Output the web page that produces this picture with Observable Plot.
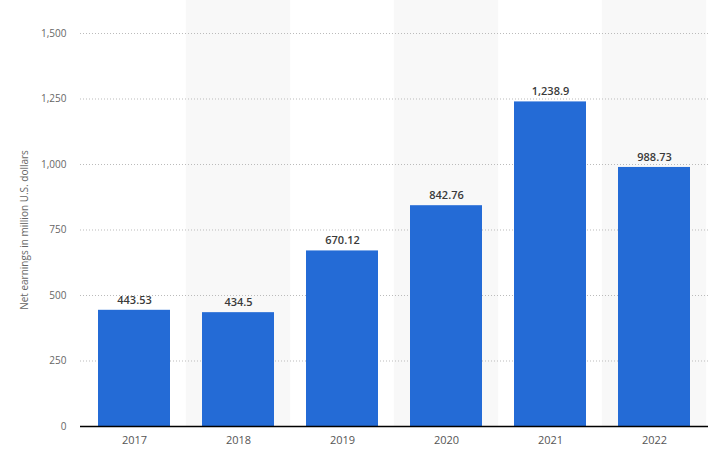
<!DOCTYPE html>
<html><head><meta charset="utf-8">
<script src="https://cdn.jsdelivr.net/npm/d3@7"></script>
<script src="https://cdn.jsdelivr.net/npm/@observablehq/plot@0.6"></script>
<style>
body{margin:0;background:#fff;font-family:"Open Sans",sans-serif;}
</style></head>
<body><div id="chart"></div>
<script>
const years = ["2017","2018","2019","2020","2021","2022"];
const earnings = [443.53, 434.5, 670.12, 842.76, 1238.9, 988.73];
const labels = ["443.53","434.5","670.12","842.76","1,238.9","988.73"];
const yTicks = [0, 250, 500, 750, 1000, 1250, 1500];

const data = years.map((y, i) => ({year: y, value: earnings[i], label: labels[i]}));
const shaded = data.filter((d, i) => i % 2 === 1);

const chart = Plot.plot({
  width: 720, height: 459,
  marginLeft: 80, marginRight: 12, marginTop: 33, marginBottom: 33,
  style: {fontFamily: "'Open Sans', sans-serif", fontSize: "11px", background: "#fff"},
  x: {domain: years, paddingInner: 0.31, paddingOuter: 0.16, label: null},
  y: {domain: [0, 1500], label: null},
  marks: [
    Plot.barY(shaded, {x: "year", y: 1500, fill: "#f8f8f8", insetLeft: -16.2, insetRight: -16.2, insetTop: -40}),
    Plot.gridY(yTicks.filter(t => t > 0), {stroke: "#bbb", strokeOpacity: 1, strokeDasharray: "1,2"}),
    Plot.barY(data, {x: "year", y: "value", fill: "#246bd6"}),
    Plot.ruleY([0], {stroke: "#000", strokeWidth: 1.5}),
    Plot.text(data, {x: "year", y: "value", text: "label", dy: -10, fill: "#3a3a3a", fontWeight: 600, fontSize: 11}),
    Plot.axisX({tickSize: 0, tickPadding: 10, fill: "#555", fontSize: 11, label: null}),
    Plot.axisY({ticks: yTicks, tickFormat: d3.format(","), tickSize: 0, tickPadding: 14, fill: "#666", fontSize: 10,
      label: "Net earnings in million U.S. dollars", labelAnchor: "center", labelArrow: "none", labelOffset: 60})
  ]
});
document.getElementById("chart").appendChild(chart);
</script></body></html>
